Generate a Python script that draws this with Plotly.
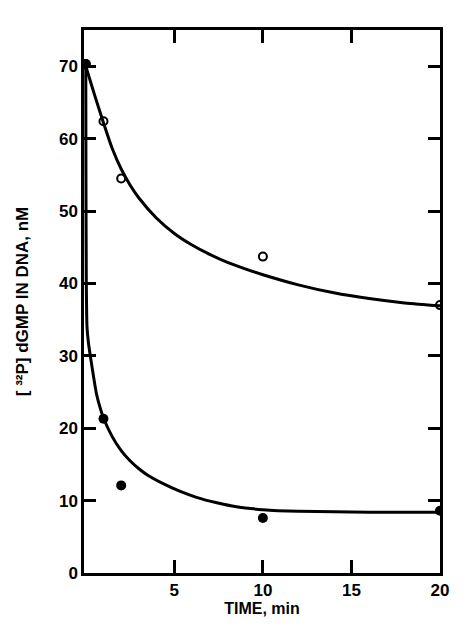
import plotly.graph_objects as go

# Measured points
time_pts = [0, 1, 2, 10, 20]
open_vals = [70.3, 62.4, 54.5, 43.7, 37.0]
filled_vals = [70.3, 21.3, 12.1, 7.6, 8.6]

# Fitted curves
open_curve_t = [0, 0.5, 1, 1.5, 2, 2.5, 3, 4, 5, 6, 7, 8, 9, 10, 12, 14, 16, 18, 20]
open_curve_v = [70.0, 66.0, 62.2, 58.6, 55.8, 53.6, 51.8, 49.0, 46.9, 45.3, 44.0, 42.9, 42.0, 41.2, 39.8, 38.7, 37.9, 37.3, 36.9]

filled_curve_t = [0, 0.01, 0.03, 0.07, 0.15, 0.3, 0.6, 0.8, 1.0, 1.5, 2.0, 2.5, 3.0, 3.5, 4.4, 5.3, 6.25, 7.4, 8.5, 10, 12, 16, 20]
filled_curve_v = [70.3, 55, 40, 34, 31.8, 29.3, 24.8, 22.9, 21.4, 18.8, 16.9, 15.5, 14.4, 13.5, 12.3, 11.3, 10.45, 9.7, 9.15, 8.75, 8.52, 8.4, 8.4]

x_ticks = [5, 10, 15, 20]
y_ticks = [0, 10, 20, 30, 40, 50, 60, 70]

fig = go.Figure()
fig.add_trace(go.Scatter(x=open_curve_t, y=open_curve_v, mode="lines",
                         line=dict(color="black", width=3, shape="spline", smoothing=0.8),
                         showlegend=False))
fig.add_trace(go.Scatter(x=filled_curve_t, y=filled_curve_v, mode="lines",
                         line=dict(color="black", width=3, shape="spline", smoothing=0.5),
                         showlegend=False))
fig.add_trace(go.Scatter(x=time_pts, y=open_vals, mode="markers",
                         marker=dict(symbol="circle-open", size=8, color="black",
                                     line=dict(width=2, color="black")),
                         showlegend=False))
fig.add_trace(go.Scatter(x=time_pts, y=filled_vals, mode="markers",
                         marker=dict(symbol="circle", size=10, color="black"),
                         showlegend=False))

font = dict(family="Liberation Sans, Arial, sans-serif", size=17, color="black", weight="bold")

fig.update_layout(
    width=466, height=632,
    margin=dict(l=76, r=34, t=22, b=67),
    paper_bgcolor="white", plot_bgcolor="white",
    font=font,
    xaxis=dict(range=[-0.1, 20], tickvals=x_ticks, ticktext=[str(v) for v in x_ticks],
               ticks="inside", ticklen=13, tickwidth=2.5, tickcolor="black",
               showline=True, linecolor="black", linewidth=2.5, mirror="ticks",
               showgrid=False, zeroline=False, automargin=False,
               title=dict(text="TIME, min", font=dict(size=16, weight="bold"), standoff=4)),
    yaxis=dict(range=[0, 75], tickvals=y_ticks, ticktext=[str(v) for v in y_ticks],
               ticks="inside", ticklen=12, tickwidth=2.5, tickcolor="black",
               showline=True, linecolor="black", linewidth=2.5, mirror="ticks",
               showgrid=False, zeroline=False, automargin=False,
               title=dict(text="[ ³²P] dGMP IN DNA, nM", font=dict(size=17, weight="bold"), standoff=26)),
)

fig.write_html("out.html")
